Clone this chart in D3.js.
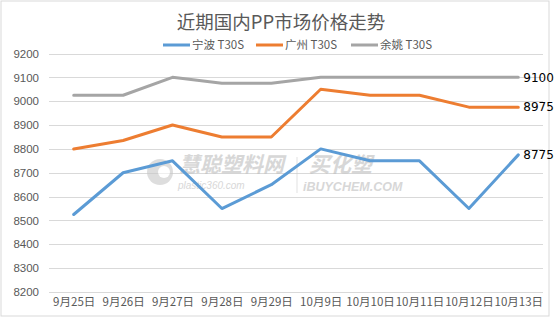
<!DOCTYPE html>
<html><head><meta charset="utf-8">
<script src="https://cdn.jsdelivr.net/npm/d3@7/dist/d3.min.js"></script>
<style>
html,body{margin:0;padding:0;background:#fff;}
svg{display:block;font-family:"Microsoft YaHei","Noto Sans CJK SC",sans-serif;}
</style></head><body>
<svg id="chart" width="555" height="317"></svg>
<script>
const title = "近期国内PP市场价格走势";
const categories = ["9月25日","9月26日","9月27日","9月28日","9月29日","10月9日","10月10日","10月11日","10月12日","10月13日"];
const seriesNames = ["宁波 T30S","广州 T30S","余姚 T30S"];
const ningbo = [8525,8700,8750,8550,8650,8800,8750,8750,8550,8775];
const guangzhou = [8800,8835,8900,8850,8850,9050,9025,9025,8975,8975];
const yuyao = [9025,9025,9100,9075,9075,9100,9100,9100,9100,9100];
const yTicks = [8200,8300,8400,8500,8600,8700,8800,8900,9000,9100,9200];
const colors = ["#5B9BD5","#ED7D31","#A5A5A5"];
const series = [ningbo, guangzhou, yuyao];

const svg = d3.select("#chart");
svg.append("rect").attr("x",1).attr("y",1).attr("width",548).attr("height",315)
  .attr("fill","#fff").attr("stroke","#D9D9D9").attr("stroke-width",1);

const pL = 49, pR = 543, pT = 53.5, pB = 292;
const x = d3.scalePoint().domain(categories).range([pL, pR]).padding(0.5);
const y = d3.scaleLinear().domain([8200, 9200]).range([pB, pT]);

// gridlines
svg.append("g").selectAll("line").data(yTicks).join("line")
  .attr("x1", pL).attr("x2", pR)
  .attr("y1", d => Math.round(y(d)) + 0.5).attr("y2", d => Math.round(y(d)) + 0.5)
  .attr("stroke", "#D9D9D9").attr("stroke-width", 1);

// y axis labels
const yAxis = d3.axisLeft(y).tickValues(yTicks).tickFormat(d3.format("d")).tickSize(0).tickPadding(0);
const gy = svg.append("g").attr("transform", `translate(${39},0)`).call(yAxis);
gy.select(".domain").remove();
gy.selectAll("text").attr("fill", "#595959").attr("font-size", 11.5)
  .attr("font-family", "'Liberation Sans','Noto Sans',sans-serif");

// x axis labels
const xAxis = d3.axisBottom(x).tickSize(0).tickPadding(0);
const gx = svg.append("g").attr("transform", `translate(0,${pB + 6})`).call(xAxis);
gx.select(".domain").remove();
gx.selectAll("text").attr("fill", "#595959").attr("font-size", 11.5)
  .attr("font-family", "'Noto Sans CJK SC',sans-serif");

// watermark
const wm = svg.append("g").attr("opacity", 0.6);
wm.append("circle").attr("cx", 160).attr("cy", 172).attr("r", 13).attr("fill", "#c8c8c8");
wm.append("circle").attr("cx", 164).attr("cy", 172).attr("r", 6).attr("fill", "#fff");
wm.append("text").attr("x", 179).attr("y", 172).attr("font-size", 21).attr("font-weight", "bold")
  .attr("fill", "#bdbdbd").attr("font-style", "italic").attr("font-family", "'Noto Sans CJK SC'")
  .text("慧聪塑料网");
wm.append("text").attr("x", 178).attr("y", 189).attr("font-size", 10).attr("font-style", "italic")
  .attr("fill", "#bdbdbd").attr("font-family", "'Liberation Sans'").text("plastic360.com");
wm.append("line").attr("x1", 297).attr("x2", 297).attr("y1", 157).attr("y2", 193).attr("stroke", "#cfcfcf");
wm.append("text").attr("x", 309).attr("y", 172).attr("font-size", 21).attr("font-weight", "bold")
  .attr("font-style", "italic").attr("fill", "#bdbdbd").attr("font-family", "'Noto Sans CJK SC'").text("买化塑");
wm.append("text").attr("x", 303).attr("y", 191).attr("font-size", 12.5).attr("font-weight", "bold")
  .attr("font-style", "italic").attr("fill", "#bdbdbd").attr("font-family", "'Liberation Sans'").text("iBUYCHEM.COM");

// lines
const line = d3.line().x((d, i) => x(categories[i])).y(d => y(d));
series.forEach((s, k) => {
  svg.append("path").datum(s).attr("d", line).attr("fill", "none")
    .attr("stroke", colors[k]).attr("stroke-width", 3).attr("stroke-linejoin", "round")
    .attr("stroke-linecap", "round");
});

// end labels
series.forEach((s, k) => {
  const last = s[s.length - 1];
  svg.append("text").attr("x", x(categories[categories.length - 1]) + 5).attr("y", y(last))
    .attr("dy", "0.35em").attr("font-size", 12).attr("fill", "#000")
    .attr("font-family", "'DejaVu Sans',sans-serif").text(last);
});

// title
svg.append("text").attr("x", 281).attr("y", 29).attr("text-anchor", "middle")
  .attr("font-size", 18.5).attr("fill", "#595959").attr("font-family", "'Noto Sans CJK SC'").text(title);

// legend
const legendX = [163, 256, 351];
seriesNames.forEach((n, k) => {
  const g = svg.append("g").attr("transform", `translate(${legendX[k]},45)`);
  g.append("line").attr("x1", 0).attr("x2", 27).attr("y1", 0).attr("y2", 0)
    .attr("stroke", colors[k]).attr("stroke-width", 3);
  g.append("text").attr("x", 29).attr("y", 0).attr("dy", "0.36em").attr("font-size", 11.5)
    .attr("fill", "#595959").attr("font-family", "'Noto Sans CJK SC'").text(n);
});
</script>
</body></html>
